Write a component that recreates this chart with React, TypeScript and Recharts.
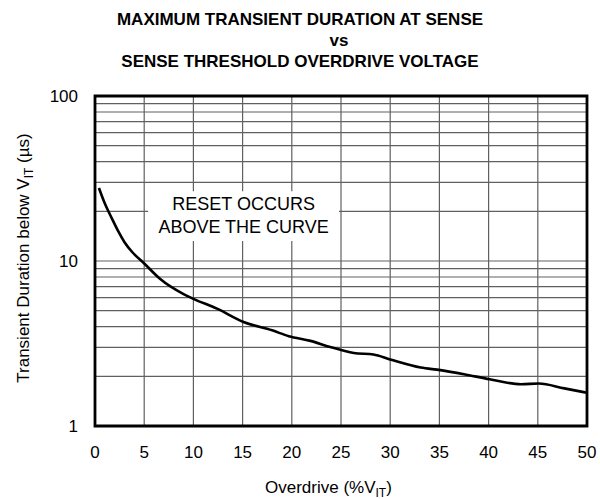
import React from "react";
import {
  LineChart,
  Line,
  XAxis,
  YAxis,
  CartesianGrid,
  ReferenceArea,
  Label,
} from "recharts";

// curve
const overdrive = [
  0.4, 1.0, 1.7, 2.4, 3.0, 3.8, 4.9, 6.6, 9.0, 10.0, 12.4, 15.1, 18.0, 19.7,
  21.9, 23.9, 25.1, 26.3, 28.3, 30.0, 33.1, 35.1, 37.5, 40.1, 43.3, 45.1, 47.7, 50.0,
];
const duration = [
  27.7, 22.3, 18.2, 15.0, 13.0, 11.3, 9.8, 7.8, 6.3, 5.9, 5.14, 4.27, 3.8, 3.5,
  3.28, 3.01, 2.88, 2.77, 2.71, 2.53, 2.26, 2.18, 2.06, 1.92, 1.79, 1.81, 1.69, 1.59,
];

const xTicks = [0, 5, 10, 15, 20, 25, 30, 35, 40, 45, 50];
const yTicks = [1, 2, 3, 4, 5, 6, 7, 8, 9, 10, 20, 30, 40, 50, 60, 70, 80, 90, 100];
const yLabelled = [1, 10, 100];

const data = overdrive.map((x, i) => ({ x, y: duration[i] }));

const FONT = "'Liberation Sans', Arial, Helvetica, sans-serif";
const GRID = "#606060";

// eslint-disable-next-line @typescript-eslint/no-explicit-any
function NoteLabel(props: any) {
  const { x, y, width } = props.viewBox;
  const cx = x + width / 2;
  return (
    <g fontFamily={FONT} fontSize={18} fill="#000" textAnchor="middle">
      <text x={cx} y={y + 18.5}>RESET OCCURS</text>
      <text x={cx} y={y + 42}>ABOVE THE CURVE</text>
    </g>
  );
}

// eslint-disable-next-line @typescript-eslint/no-explicit-any
function YTitle(props: any) {
  const { y, height } = props.viewBox;
  const cx = 29;
  const cy = y + height / 2 - 3;
  return (
    <text
      x={cx}
      y={cy}
      transform={`rotate(-90 ${cx} ${cy})`}
      textAnchor="middle"
      fontFamily={FONT}
      fontSize={17}
      fill="#000"
    >
      Transient Duration below V
      <tspan dy={4} fontSize={12}>IT</tspan>
      <tspan dy={-4}> (µs)</tspan>
    </text>
  );
}

function XTitle() {
  return (
    <text x={265} y={493} fontFamily={FONT} fontSize={17} fill="#000">
      Overdrive (%V
      <tspan dy={4} fontSize={12}>IT</tspan>
      <tspan dy={-4}>)</tspan>
    </text>
  );
}

export default function App() {
  return (
    <div
      style={{
        position: "absolute",
        left: 0,
        top: 0,
        width: 600,
        height: 499,
        background: "#fff",
        fontFamily: FONT,
      }}
    >
      <svg
        width={600}
        height={80}
        style={{ position: "absolute", left: 0, top: 0 }}
        fontFamily={FONT}
        fontWeight="bold"
        fontSize={17}
        fill="#000"
        textAnchor="middle"
      >
        <text x={300} y={25}>MAXIMUM TRANSIENT DURATION AT SENSE</text>
        <text x={339} y={46}>vs</text>
        <text x={300} y={67}>SENSE THRESHOLD OVERDRIVE VOLTAGE</text>
      </svg>

      <LineChart
        width={600}
        height={499}
        data={data}
        margin={{ top: 96, right: 13, bottom: 0, left: 0 }}
      >
        <CartesianGrid stroke={GRID} strokeWidth={1.2} />
        <XAxis
          dataKey="x"
          type="number"
          domain={[0, 50]}
          ticks={xTicks}
          interval={0}
          height={73}
          axisLine={false}
          tickLine={false}
          tickMargin={14}
          tick={{ fill: "#000", fontSize: 17, fontFamily: FONT }}
        >
          <Label content={<XTitle />} />
        </XAxis>
        <YAxis
          type="number"
          scale="log"
          domain={[1, 100]}
          allowDataOverflow
          ticks={yTicks}
          interval={0}
          width={95}
          axisLine={false}
          tickLine={false}
          tickMargin={11}
          tickFormatter={(v: number) => (yLabelled.includes(v) ? String(v) : "")}
          tick={{ fill: "#000", fontSize: 17, fontFamily: FONT }}
        >
          <Label content={<YTitle />} />
        </YAxis>
        <ReferenceArea
          x1={5.4}
          x2={24.8}
          y1={13.2}
          y2={26.5}
          fill="#fff"
          fillOpacity={1}
          stroke="none"
          label={<NoteLabel />}
        />
        <Line
          dataKey="y"
          type="monotone"
          stroke="#000"
          strokeWidth={2.6}
          dot={false}
          isAnimationActive={false}
        />
        <ReferenceArea
          x1={0}
          x2={50}
          y1={1}
          y2={100}
          fill="none"
          stroke="#000"
          strokeWidth={2.8}
        />
      </LineChart>
    </div>
  );
}
